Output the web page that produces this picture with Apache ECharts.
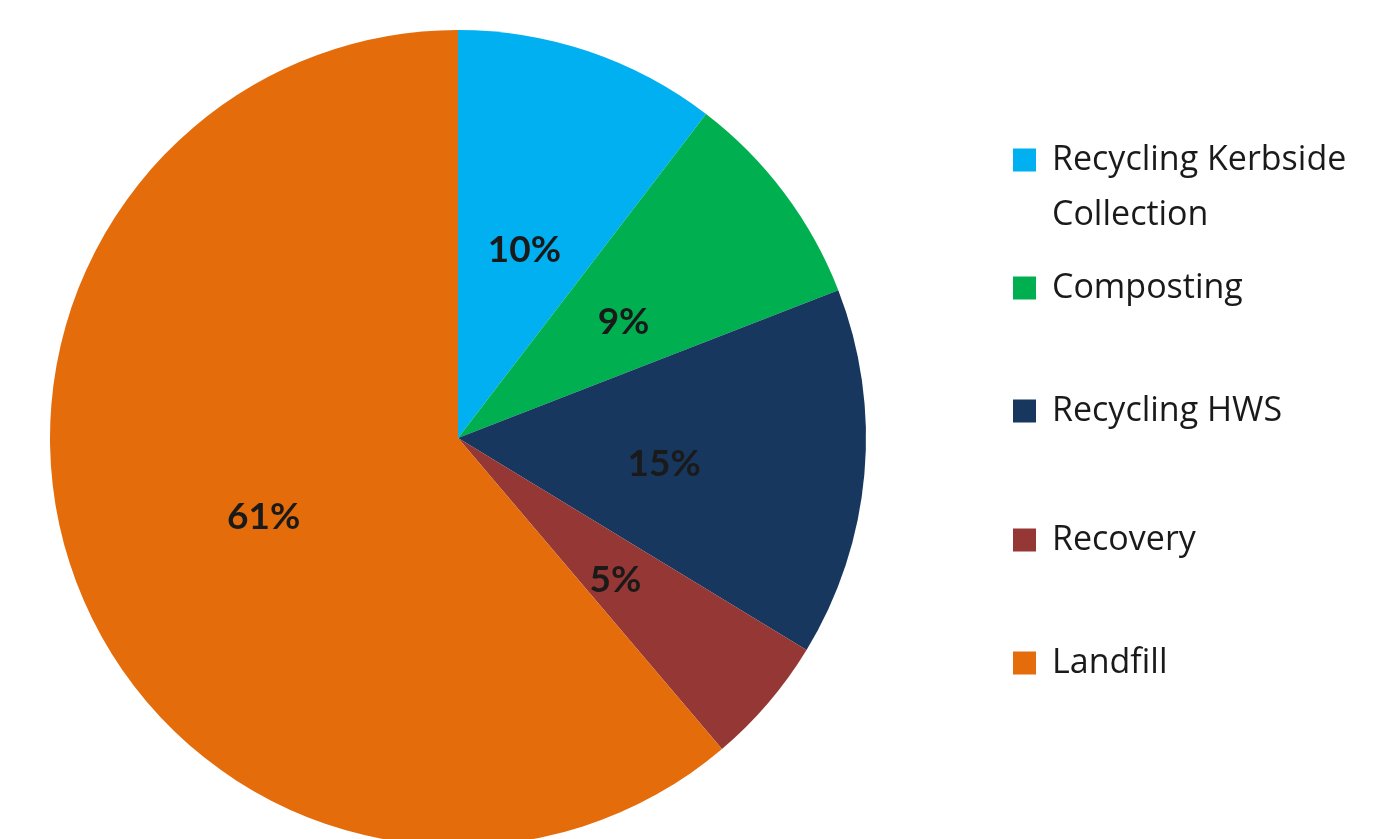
<!DOCTYPE html>
<html>
<head>
<meta charset="utf-8">
<style>
  html, body { margin: 0; padding: 0; background: #ffffff; }
  #chart { width: 1385px; height: 839px; }
</style>
<script src="https://cdn.jsdelivr.net/npm/echarts@6/dist/echarts.min.js"></script>
</head>
<body>
<div id="chart"></div>
<script>
// Categories (clockwise from 12 o'clock)
const categories = ['Recycling Kerbside Collection', 'Composting', 'Recycling HWS', 'Recovery', 'Landfill'];
// Share of waste (%)
const shares = [10.4, 8.7, 14.6, 5.1, 61.2];
// Slice colours
const colors = ['#00B0F0', '#00B050', '#17375E', '#953735', '#E46C0A'];
// Legend label lines (first one wraps onto two lines)
const legendLines = [['Recycling Kerbside', 'Collection'], ['Composting'], ['Recycling HWS'], ['Recovery'], ['Landfill']];
// Vertical centre of each legend marker
const legendCenters = [160, 288, 411, 540, 663];

const chart = echarts.init(document.getElementById('chart'), null, { renderer: 'canvas' });

const legendFont = '"Open Sans", "Liberation Sans", sans-serif';
const legends = categories.map((name, i) => {
  const lines = legendLines[i];
  const twoLine = lines.length > 1;
  const lh = twoLine ? 55 : 34;
  // for a wrapped label, add a blank line above so the first line sits on the marker
  const text = twoLine ? [' '].concat(lines).join('\n') : lines[0];
  const boxH = twoLine ? 3 * lh : lh;
  return {
    orient: 'vertical',
    left: 1013,
    top: legendCenters[i] - boxH / 2,
    padding: 0,
    itemWidth: 23,
    itemHeight: 23,
    icon: 'rect',
    selectedMode: false,
    data: [name],
    formatter: () => text,
    textStyle: {
      fontFamily: legendFont,
      fontSize: 34,
      color: '#1a1a1a',
      lineHeight: lh,
      padding: [0, 0, 0, 11]
    }
  };
});

chart.setOption({
  animation: false,
  backgroundColor: '#ffffff',
  color: colors,
  legend: legends,
  series: [{
    type: 'pie',
    center: [458, 438],
    radius: [0, 408],
    startAngle: 90,
    clockwise: true,
    avoidLabelOverlap: false,
    itemStyle: { borderWidth: 0 },
    label: {
      show: true,
      position: 'inside',
      formatter: p => Math.round(p.percent) + '%',
      fontFamily: 'Lato, "Open Sans", sans-serif',
      fontWeight: 'bold',
      fontSize: 37,
      color: '#1a1a1a',
      offset: [0, 8]
    },
    labelLine: { show: false },
    emphasis: { disabled: true },
    data: categories.map((name, i) => ({ name: name, value: shares[i] }))
  }]
});
</script>
</body>
</html>
